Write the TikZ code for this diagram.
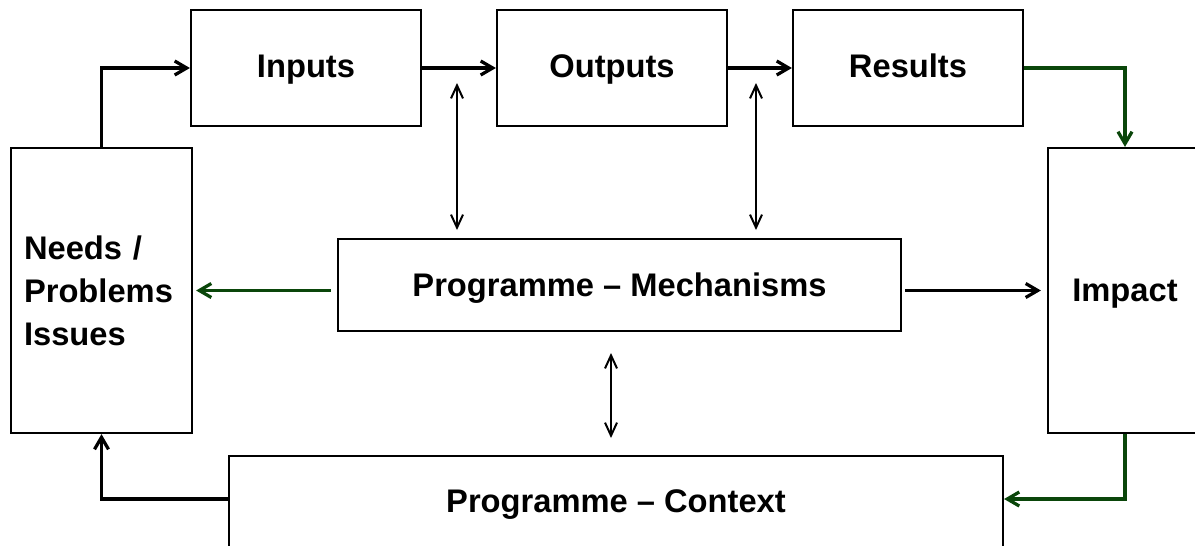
\documentclass[tikz,border=0pt]{standalone}
\usepackage{fontspec}
\setmainfont{Liberation Sans}
\usetikzlibrary{arrows.meta}
\definecolor{darkgreen}{RGB}{10,70,10}
\tikzset{
	box/.style={draw, line width=0.045cm, inner sep=0pt, font=\bfseries\fontsize{18.6}{24.5}\selectfont},
	topbox/.style={box, minimum width=4.6cm, minimum height=2.32cm, text depth=0.25em},
	arrow/.style={line width=0.065cm, -{Straight Barb[length=0.24cm, width=0.28cm]}},
	garrow/.style={arrow, draw=darkgreen},
	link/.style={line width=0.04cm, {Straight Barb[length=0.26cm, width=0.24cm]}-{Straight Barb[length=0.26cm, width=0.24cm]}}
}

\begin{document}
\begin{tikzpicture}[x=0.02cm, y=-0.02cm]
		%%%%% START %%%%%
		\useasboundingbox (0, 0) rectangle (1195, 545);
		\clip (0, 0) rectangle (1195, 545);
		
		\node[topbox] (inputs) at (306, 68) {Inputs};
		\node[topbox] (outputs) at (612, 68) {Outputs};
		\node[topbox] (results) at (908, 68) {Results};
		
		\node[box, minimum width=3.62cm, minimum height=5.7cm, text width=3.1cm, align=left] (needs) at (101.5, 290.5) {Needs /\\Problems\\Issues};
		\node[box, minimum width=11.26cm, minimum height=1.84cm, text depth=0pt] (mech) at (619.5, 285) {Programme – Mechanisms};
		\node[box, minimum width=3.08cm, minimum height=5.7cm, text depth=0pt] (impact) at (1125, 290.5) {Impact};
		\node[box, anchor=north, minimum width=15.48cm, minimum height=1.92cm] (context) at (616, 455) {Programme – Context};
		
		\draw[arrow] (needs.north) |- (inputs.west);
		\draw[arrow] (inputs) -- (outputs);
		\draw[arrow] (outputs) -- (results);
		\draw[garrow] (results.east) -| (impact.north);
		
		\foreach \x/\n in {457/io, 756/or}{
			\coordinate (\n top) at (\x, 83);
			\coordinate (\n bot) at (\x, 230);
			\draw[link] (\n top) -- (\n bot);
		}
		\coordinate (mc top) at (611, 353);
		\coordinate (mc bot) at (611, 438);
		\draw[link] (mc top) -- (mc bot);
		
		\draw[garrow, shorten <=0.12cm, shorten >=0.06cm] (mech.west |- needs.east) -- (needs.east);
		\draw[arrow, shorten <=0.06cm, shorten >=0.12cm] (mech.east |- impact.west) -- (impact.west);
		
		\draw[garrow] (impact.south) |- ([yshift=-0.88cm]context.north east);
		\draw[arrow] ([yshift=-0.88cm]context.north west) -| (needs.south);
		%%%%% END %%%%%
	\end{tikzpicture}
\end{document}
